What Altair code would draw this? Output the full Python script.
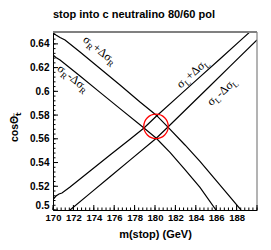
import altair as alt
import pandas as pd
import numpy as np

# ---- data ----
# sigma_R + delta sigma_R
mA = [170.00, 170.29, 170.69, 171.18, 172.65, 174.61, 176.57, 178.53, 180.10, 181.27, 182.94, 184.41, 185.88, 187.35, 188.43]
cA = [0.6492, 0.6475, 0.6454, 0.6433, 0.6331, 0.6192, 0.6053, 0.5910, 0.5801, 0.5699, 0.5548, 0.5409, 0.5261, 0.5110, 0.5000]
# sigma_R - delta sigma_R
mB = [170.00, 170.29, 170.69, 172.65, 174.61, 176.57, 178.92, 180.10, 181.47, 182.94, 184.41, 185.98]
cB = [0.6306, 0.6285, 0.6264, 0.6129, 0.5991, 0.5854, 0.5691, 0.5607, 0.5485, 0.5341, 0.5190, 0.5000]
# sigma_L + delta sigma_L
mC = [170.00, 170.29, 170.59, 170.88, 171.67, 173.63, 175.59, 177.55, 178.92, 180.10, 182.45, 184.41, 186.37, 188.33, 189.26]
cC = [0.5088, 0.5118, 0.5135, 0.5143, 0.5194, 0.5328, 0.5463, 0.5597, 0.5691, 0.5788, 0.5970, 0.6122, 0.6273, 0.6425, 0.6497]
# sigma_L - delta sigma_L
mD = [171.67, 173.63, 175.59, 177.55, 180.10, 181.27, 183.43, 185.39, 187.35, 190.00]
cD = [0.5000, 0.5140, 0.5280, 0.5420, 0.5603, 0.5699, 0.5881, 0.6045, 0.6210, 0.6433]

circle_m = [180.1]
circle_c = [0.5705]

x_ticks = [170, 172, 174, 176, 178, 180, 182, 184, 186, 188]
y_ticks = [0.5, 0.52, 0.54, 0.56, 0.58, 0.6, 0.62, 0.64]
x_major = [170, 172, 174, 176, 178, 180, 182, 184, 186, 188, 190]
x_minor = [round(v, 2) for v in np.arange(170, 190.01, 0.4)]
y_major = [0.5, 0.52, 0.54, 0.56, 0.58, 0.6, 0.62, 0.64]
y_minor = [round(v, 4) for v in np.arange(0.5, 0.6501, 0.004)]

title_text = "stop into c neutralino 80/60 pol"
x_title = "m(stop) (GeV)"

# ---- build ----
W, H = 204, 178
xs = alt.Scale(domain=[170, 190], nice=False, zero=False)
ys = alt.Scale(domain=[0.5, 0.65], nice=False, zero=False)

xA = alt.Axis(values=x_ticks, title=x_title, ticks=False, grid=False,
              domainColor="black", domainWidth=1, labelFontSize=9.5,
              labelFontWeight="bold", labelPadding=2, titleFontSize=11,
              titleFontWeight="bold", titlePadding=7, labelColor="black",
              titleColor="black", labelOverlap=False, labelFlush=False)
yA = alt.Axis(values=y_ticks, title=None, ticks=False, grid=False,
              domainColor="black", domainWidth=1, labelFontSize=10,
              labelFontWeight="bold", labelPadding=4, format="~g",
              labelFlush=True, labelColor="black", labelOverlap=False)

X = lambda f: alt.X(f, scale=xs, axis=xA, title=x_title)
Y = lambda f: alt.Y(f, scale=ys, axis=yA, title=None)

rows = []
for name, ms, cs in [("A", mA, cA), ("B", mB, cB), ("C", mC, cC), ("D", mD, cD)]:
    for i, (m, c) in enumerate(zip(ms, cs)):
        rows.append({"curve": name, "i": i, "m": m, "c": c})
curves = pd.DataFrame(rows)

lines = alt.Chart(curves).mark_line(color="black", strokeWidth=1.2, clip=True).encode(
    x=X("m:Q"), y=Y("c:Q"), detail="curve:N", order="i:Q",
)

circ = alt.Chart(pd.DataFrame({"m": circle_m, "c": circle_c})).mark_point(
    shape="circle", size=600, filled=False, stroke="red", strokeWidth=1.3, opacity=1
).encode(x=X("m:Q"), y=Y("c:Q"))

# inward ticks
def xticks(vals, length):
    return alt.Chart(pd.DataFrame({"m": vals})).mark_rule(color="black", strokeWidth=1).encode(
        x=X("m:Q"), y=alt.value(H), y2=alt.value(H - length))

def yticks(vals, length):
    return alt.Chart(pd.DataFrame({"c": vals})).mark_rule(color="black", strokeWidth=1).encode(
        y=Y("c:Q"), x=alt.value(0), x2=alt.value(length))

frame_top = alt.Chart(pd.DataFrame({"a": [0]})).mark_rule(color="#808080", strokeWidth=2).encode(
    x=alt.value(0), x2=alt.value(W), y=alt.value(0))
frame_right = alt.Chart(pd.DataFrame({"a": [0]})).mark_rule(color="#808080", strokeWidth=1.2).encode(
    x=alt.value(W), y=alt.value(0), y2=alt.value(H))

# curve labels with subscripts
widths = {"σ": 6.6, "R": 6.0, "L": 5.5, "+Δσ": 6.8 + 7.3 + 6.6, "-Δσ": 4.0 + 7.3 + 6.6}

def curve_label(m, c, angle, sign, sub):
    pieces = [("σ", False), (sub, True), (sign + "Δσ", False), (sub, True)]
    total = sum(widths[p] for p, _ in pieces)
    off = -total / 2
    base = alt.Chart(pd.DataFrame({"m": [m], "c": [c]}))
    out = []
    for t, is_sub in pieces:
        out.append(base.mark_text(
            text=t, align="left", baseline="middle", angle=angle, dx=off,
            dy=4 if is_sub else 0, fontSize=8.5 if is_sub else 12,
            font="Liberation Serif", color="black"
        ).encode(x=X("m:Q"), y=Y("c:Q")))
        off += widths[t]
    return out

labels = []
labels += curve_label(174.61, 0.6348, 39, "+", "R")
labels += curve_label(171.99, 0.6112, 39, "-", "R")
labels += curve_label(183.66, 0.6155, 318, "+", "L")
labels += curve_label(186.54, 0.6000, 318, "-", "L")

ybase = alt.Chart(pd.DataFrame({"a": [0]}))
ytitle_main = ybase.mark_text(text="cosΘ", align="left", baseline="middle", angle=270,
                              fontSize=10.5, fontWeight="bold", font="Liberation Sans", color="black").encode(
    x=alt.value(-38), y=alt.value(110))
ytitle_sub = ybase.mark_text(text="t̃", align="left", baseline="middle", angle=270,
                             fontSize=7.5, fontWeight="bold", font="DejaVu Sans", color="black").encode(
    x=alt.value(-34.5), y=alt.value(84))

chart = alt.layer(
    lines, frame_top, frame_right,
    xticks(x_major, 5), xticks(x_minor, 2.5), yticks(y_major, 5), yticks(y_minor, 2.5),
    circ, *labels, ytitle_main, ytitle_sub,
).properties(
    width=W, height=H,
    title=alt.TitleParams(title_text, anchor="start", frame="group", fontSize=11, fontWeight="bold",
                          font="Liberation Sans", offset=11, color="black"),
    padding={"left": 45, "top": 24, "right": 6, "bottom": 32},
    autosize=alt.AutoSizeParams(type="none"),
).configure_view(stroke=None).configure_axis(labelFont="Liberation Sans", titleFont="Liberation Sans")

chart.save("out.html", embed_options={"renderer": "svg", "actions": False})
